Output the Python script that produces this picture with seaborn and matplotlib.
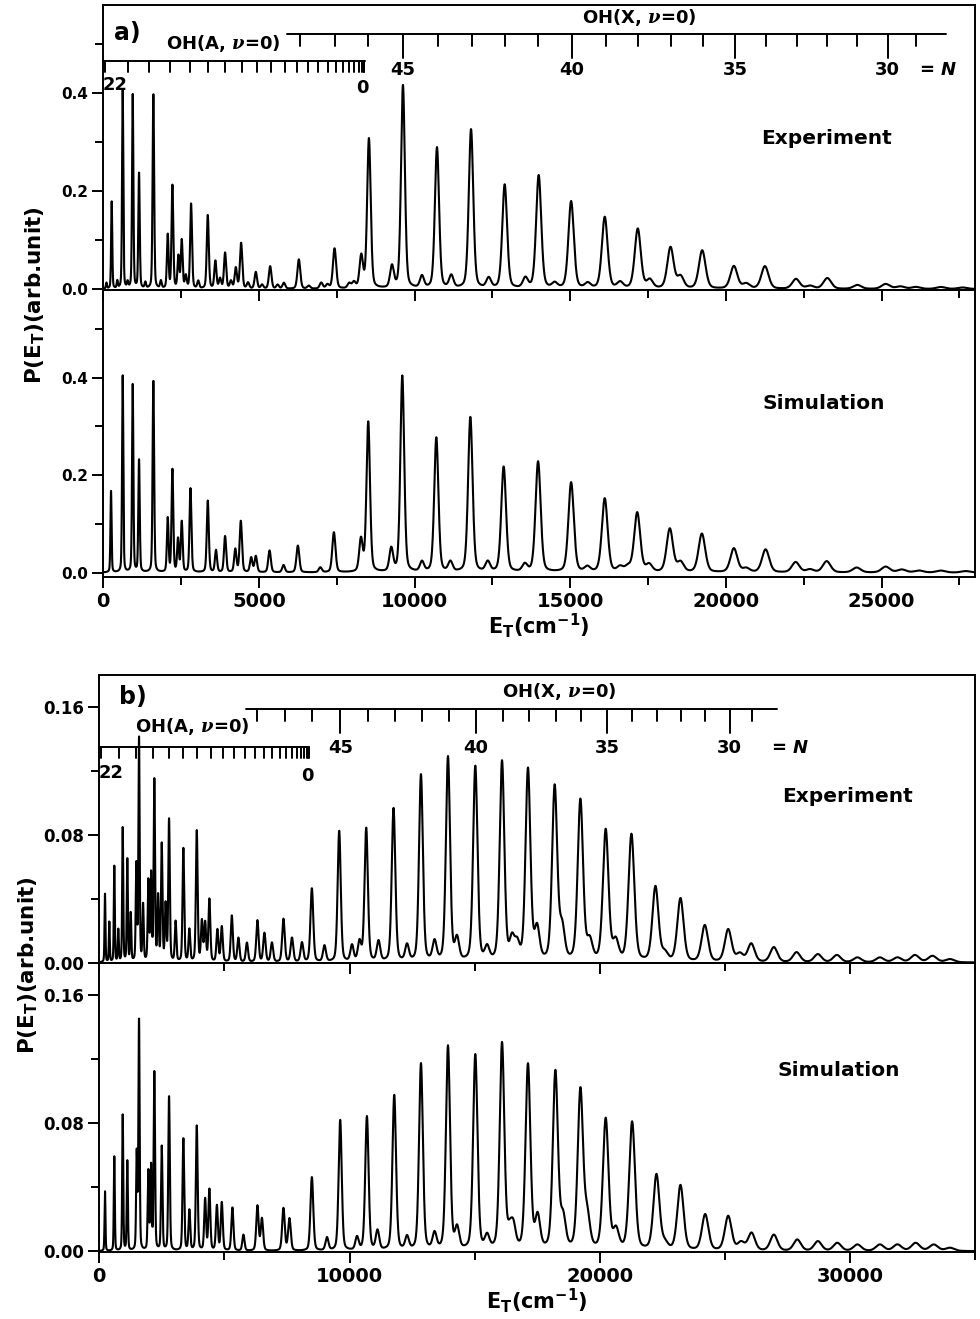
import numpy as np
import pandas as pd
import matplotlib
matplotlib.use('Agg')
import matplotlib.pyplot as plt
import seaborn as sns
from matplotlib.ticker import MultipleLocator, FixedLocator, FixedFormatter


# peak positions (cm-1) and heights

exp_a_pos = [100, 270, 450, 623, 780, 945, 1148, 1350, 1608, 1850, 2070, 2220, 2412, 2520, 2650,
             2820, 3050, 3356, 3600, 3750, 3912, 4100, 4256, 4427, 4650, 4899, 5100, 5360, 5600,
             5800, 6281, 6600, 7000, 7200, 7428, 7900, 8050, 8286, 8532, 9272, 9625, 10236, 10718,
             11178, 11812, 12380, 12893, 13558, 13985, 14500, 15027, 15560, 16107, 16600, 17168,
             17554, 18219, 18541, 19238, 20255, 20650, 21252, 22249, 22700, 23256, 24221, 25132,
             25600, 26100, 26900, 27600]
exp_a_h = [0.012, 0.178, 0.015, 0.408, 0.012, 0.396, 0.236, 0.012, 0.398, 0.015, 0.109, 0.21, 0.065,
           0.098, 0.025, 0.173, 0.015, 0.15, 0.056, 0.02, 0.073, 0.015, 0.042, 0.093, 0.012, 0.034,
           0.008, 0.046, 0.008, 0.012, 0.06, 0.006, 0.012, 0.008, 0.082, 0.01, 0.012, 0.065, 0.306,
           0.044, 0.415, 0.024, 0.288, 0.025, 0.325, 0.02, 0.212, 0.02, 0.231, 0.01, 0.178, 0.01,
           0.146, 0.012, 0.122, 0.017, 0.084, 0.024, 0.078, 0.046, 0.01, 0.046, 0.02, 0.006, 0.022,
           0.008, 0.01, 0.005, 0.004, 0.004, 0.003]

sim_a_pos = [248, 623, 945, 1148, 1608, 2070, 2220, 2400, 2520, 2800, 3356, 3620, 3912, 4240, 4417,
             4750, 4899, 5340, 5790, 6250, 6970, 7407, 8276, 8510, 9250, 9604, 10236, 10697, 11150,
             11790, 12350, 12860, 13540, 13966, 15027, 15550, 16107, 16600, 16850, 17150, 17530,
             18197, 18540, 19227, 20255, 20650, 21274, 22239, 22700, 23236, 24200, 25132, 25650,
             26200, 26900, 27700]
sim_a_h = [0.168, 0.406, 0.385, 0.231, 0.394, 0.11, 0.21, 0.067, 0.103, 0.172, 0.147, 0.045, 0.074,
           0.047, 0.105, 0.03, 0.033, 0.045, 0.015, 0.055, 0.01, 0.082, 0.066, 0.308, 0.047, 0.403,
           0.02, 0.276, 0.02, 0.318, 0.02, 0.216, 0.015, 0.227, 0.184, 0.01, 0.151, 0.01, 0.01,
           0.122, 0.015, 0.089, 0.02, 0.079, 0.049, 0.008, 0.047, 0.021, 0.006, 0.023, 0.01, 0.012,
           0.006, 0.004, 0.004, 0.003]

exp_b_pos = [228, 400, 600, 760, 936, 1120, 1256, 1480, 1588, 1750, 1960, 2068, 2200, 2350, 2496,
             2650, 2788, 3050, 3360, 3600, 3896, 4100, 4230, 4400, 4720, 4896, 5296, 5560, 5900,
             6320, 6600, 6900, 7360, 7700, 8100, 8496, 9000, 9588, 10100, 10400, 10668, 11160,
             11760, 12300, 12856, 13400, 13936, 14296, 15028, 15500, 16096, 16496, 16700, 17133,
             17496, 18200, 18496, 19228, 19600, 20240, 20640, 21268, 22228, 22600, 23228, 24200,
             25136, 25600, 26056, 26960, 27868, 28720, 29480, 30300, 31200, 31900, 32600, 33300,
             34000]
exp_b_h = [0.043, 0.025, 0.06, 0.02, 0.084, 0.064, 0.03, 0.06, 0.14, 0.035, 0.05, 0.054, 0.113,
           0.04, 0.073, 0.035, 0.089, 0.025, 0.071, 0.02, 0.082, 0.025, 0.024, 0.039, 0.02, 0.022,
           0.029, 0.015, 0.012, 0.026, 0.018, 0.012, 0.027, 0.015, 0.012, 0.046, 0.01, 0.082, 0.01,
           0.012, 0.0835, 0.0125, 0.096, 0.01, 0.117, 0.012, 0.128, 0.0135, 0.122, 0.008, 0.125,
           0.013, 0.01, 0.12, 0.0197, 0.109, 0.02, 0.1008, 0.012, 0.082, 0.012, 0.0794, 0.0467,
           0.005, 0.0395, 0.0228, 0.0203, 0.005, 0.0114, 0.0093, 0.0062, 0.005, 0.0045, 0.003,
           0.003, 0.003, 0.0045, 0.004, 0.002]

sim_b_pos = [228, 600, 936, 1120, 1496, 1588, 1960, 2068, 2200, 2496, 2788, 3360, 3600, 3896, 4230,
             4400, 4700, 4896, 5320, 5760, 6320, 6500, 7360, 7600, 8496, 9100, 9628, 10300, 10696,
             11120, 11788, 12300, 12856, 13400, 13936, 14300, 15028, 15500, 16096, 16400, 16550,
             17133, 17520, 18228, 18536, 19228, 19500, 20240, 20650, 21296, 22268, 22600, 23228,
             24216, 25136, 25650, 26068, 26960, 27896, 28720, 29496, 30300, 31200, 31900, 32628,
             33350, 34000]
sim_b_h = [0.0375, 0.059, 0.085, 0.056, 0.06, 0.144, 0.049, 0.052, 0.111, 0.065, 0.0965, 0.07, 0.025,
           0.078, 0.032, 0.038, 0.028, 0.03, 0.027, 0.01, 0.028, 0.02, 0.0265, 0.02, 0.046, 0.008,
           0.0817, 0.008, 0.0838, 0.012, 0.097, 0.008, 0.1167, 0.01, 0.1275, 0.013, 0.122, 0.008,
           0.129, 0.01, 0.013, 0.1156, 0.02, 0.111, 0.019, 0.0994, 0.02, 0.0817, 0.012, 0.080, 0.047,
           0.004, 0.0406, 0.0225, 0.0215, 0.005, 0.011, 0.01, 0.007, 0.006, 0.005, 0.004, 0.004,
           0.004, 0.005, 0.004, 0.002]

# rotational combs (cm-1), OH(X, v=0) N = 48..29 and OH(A, v=0) N = 22..0
x_comb_N = [48, 47, 46, 45, 44, 43, 42, 41, 40, 39, 38, 37, 36, 35, 34, 33, 32, 31, 30, 29]
x_comb_E = [6310, 7440, 8505, 9630, 10750, 11830, 12905, 13970, 15060, 16140, 17160, 18235,
            19270, 20290, 21300, 22280, 23250, 24210, 25195, 26095]
a_comb_E = [60, 790, 1480, 2140, 2770, 3360, 3920, 4450, 4940, 5400, 5830, 6220, 6580, 6910,
            7210, 7470, 7710, 7900, 8060, 8200, 8300, 8360, 8390]


def spectrum(E, pos, h):
    # pseudo-Voigt lines, width growing with energy
    y = np.zeros_like(E)
    for p, a in zip(pos, h):
        w = 40 + 0.011 * p
        g = np.exp(-4 * np.log(2) * ((E - p) / w) ** 2)
        l = 1 / (1 + 4 * ((E - p) / w) ** 2)
        y += a * (0.7 * g + 0.3 * l)
    return y


sns.set_style('ticks')
plt.rcParams['font.family'] = ['DejaVu Sans']
plt.rcParams['font.weight'] = 'bold'
plt.rcParams['axes.labelweight'] = 'bold'
plt.rcParams['axes.linewidth'] = 1.4
plt.rcParams['text.color'] = 'black'
plt.rcParams['axes.labelcolor'] = 'black'
plt.rcParams['axes.edgecolor'] = 'black'
plt.rcParams['xtick.color'] = 'black'
plt.rcParams['ytick.color'] = 'black'
plt.rcParams['mathtext.fontset'] = 'custom'
plt.rcParams['mathtext.rm'] = 'DejaVu Sans:bold'
plt.rcParams['mathtext.bf'] = 'DejaVu Sans:bold'
plt.rcParams['mathtext.it'] = 'DejaVu Sans:bold:italic'
plt.rcParams['mathtext.sf'] = 'DejaVu Serif:italic'

fig = plt.figure(figsize=(9.8, 13.19), dpi=100)

W, H = 980, 1319


def make_ax(x0, x1, ytop, ybot):
    return fig.add_axes([x0 / W, 1 - ybot / H, (x1 - x0) / W, (ybot - ytop) / H])


ax_ea = make_ax(103.3, 975, 5, 290)
ax_sa = make_ax(103.3, 975, 290, 577)
ax_eb = make_ax(99.3, 975, 675, 963.3)
ax_sb = make_ax(99.3, 975, 963.3, 1252)

Ea = np.arange(0, 28001, 5.0)
Eb = np.arange(0, 35001, 5.0)

for ax, E, pos, h in [(ax_ea, Ea, exp_a_pos, exp_a_h), (ax_sa, Ea, sim_a_pos, sim_a_h),
                      (ax_eb, Eb, exp_b_pos, exp_b_h), (ax_sb, Eb, sim_b_pos, sim_b_h)]:
    df = pd.DataFrame({'E': E, 'P': spectrum(E, pos, h)})
    sns.lineplot(data=df, x='E', y='P', ax=ax, color='black', lw=1.5, estimator=None)
    ax.set_xlabel('')
    ax.set_ylabel('')
    ax.tick_params(axis='both', which='major', length=8, width=1.4, direction='out', pad=3)
    ax.tick_params(axis='both', which='minor', length=6, width=1.4, direction='out')
    ax.tick_params(top=False, right=False)

ax_sa.patch.set_visible(False)
ax_sb.patch.set_visible(False)

# panel a axes
for ax in (ax_ea, ax_sa):
    ax.set_xlim(0, 28000)
    ax.xaxis.set_major_locator(MultipleLocator(5000))
    ax.xaxis.set_minor_locator(MultipleLocator(2500))
    ax.yaxis.set_major_locator(FixedLocator([0, 0.2, 0.4]))
    ax.yaxis.set_major_formatter(FixedFormatter(['0.0', '0.2', '0.4']))
    ax.yaxis.set_minor_locator(FixedLocator([0.1, 0.3, 0.5]))
    ax.tick_params(axis='y', labelsize=11)
    ax.tick_params(axis='x', labelsize=14)
ax_ea.set_ylim(-0.002, 0.58)
ax_sa.set_ylim(-0.009, 0.58)

for ax in (ax_eb, ax_sb):
    ax.set_xlim(0, 35000)
    ax.xaxis.set_major_locator(MultipleLocator(10000))
    ax.xaxis.set_minor_locator(MultipleLocator(5000))
    ax.yaxis.set_major_locator(FixedLocator([0, 0.08, 0.16]))
    ax.yaxis.set_major_formatter(FixedFormatter(['0.00', '0.08', '0.16']))
    ax.yaxis.set_minor_locator(FixedLocator([0.04, 0.12]))
    ax.tick_params(axis='y', labelsize=12)
    ax.tick_params(axis='x', labelsize=14)
    ax.set_ylim(-0.0005, 0.18)

ax_ea.tick_params(axis='x', labelbottom=False)
ax_eb.tick_params(axis='x', labelbottom=False)

for ax in (ax_sa, ax_sb):
    ax.set_xlabel(r'E$_\mathregular{T}$(cm$^\mathregular{-1}$)', fontsize=15, labelpad=0)

fig.text(0.036, 1 - 295 / H, r'P(E$_\mathregular{T}$)(arb.unit)', rotation=90,
         fontsize=15.5, ha='center', va='center')
fig.text(0.029, 1 - 965 / H, r'P(E$_\mathregular{T}$)(arb.unit)', rotation=90,
         fontsize=15.5, ha='center', va='center')

ax_ea.text(826 / W, 1 - 138 / H, 'Experiment', transform=fig.transFigure, fontsize=14.5,
           ha='center', va='center')
ax_sa.text(824 / W, 1 - 404 / H, 'Simulation', transform=fig.transFigure, fontsize=14.5,
           ha='center', va='center')
ax_eb.text(847 / W, 1 - 797 / H, 'Experiment', transform=fig.transFigure, fontsize=14.5,
           ha='center', va='center')
ax_sb.text(839 / W, 1 - 1070 / H, 'Simulation', transform=fig.transFigure, fontsize=14.5,
           ha='center', va='center')


def draw_combs(ax, ytop, ybot, xline, aline, lab):
    tr = ax.get_xaxis_transform()
    f = lambda y: (ybot - y) / (ybot - ytop)
    kw = dict(color='black', lw=1.4, transform=tr, clip_on=False)
    # OH(X) comb
    yx = f(xline['y'])
    ax.plot([xline['start'], xline['end']], [yx, yx], **kw)
    for n, e in zip(x_comb_N, x_comb_E):
        ylo = f(xline['y'] + (24 if n % 5 == 0 else 12))
        ax.plot([e, e], [yx, ylo], **kw)
        if n % 5 == 0:
            ax.text(e, f(xline['lab']), str(n), transform=tr, ha='center', va='center', fontsize=13)
    ax.text(xline['title_x'], f(xline['title_y']), r'OH(X, $\mathsf{\nu}$=0)', transform=tr,
            ha='center', va='center', fontsize=13)
    ax.text(xline['n_x'], f(xline['lab']), r'= $N$', transform=tr, ha='center', va='center',
            fontsize=13)
    # OH(A) comb
    ya = f(aline['y'])
    ax.plot([0, aline['end']], [ya, ya], **kw)
    for e in a_comb_E:
        ax.plot([e, e], [ya, f(aline['y'] + 11)], **kw)
    ax.text(aline['l22'], f(aline['lab']), '22', transform=tr, ha='center', va='center', fontsize=13)
    ax.text(aline['l0'], f(aline['lab'] + 3), '0', transform=tr, ha='center', va='center', fontsize=13)
    ax.text(aline['title_x'], f(aline['title_y']), r'OH(A, $\mathsf{\nu}$=0)', transform=tr,
            ha='center', va='center', fontsize=13)
    ax.text(lab[0], f(lab[1]), lab[2], transform=tr, ha='center', va='center', fontsize=17)


draw_combs(ax_ea, 5, 290,
           dict(y=34, start=5900, end=27060, lab=70, title_x=17207, title_y=17, n_x=26800),
           dict(y=61, end=8414, lab=85, l22=390, l0=8330, title_x=3850, title_y=43),
           (780, 33, 'a)'))
draw_combs(ax_eb, 675, 963.3,
           dict(y=709.3, start=5870, end=27100, lab=748, title_x=18390, title_y=691.7, n_x=27600),
           dict(y=747.3, end=8390, lab=773, l22=490, l0=8300, title_x=3700, title_y=726.7),
           (1350, 697, 'b)'))

plt.savefig('out.png', dpi=100)
